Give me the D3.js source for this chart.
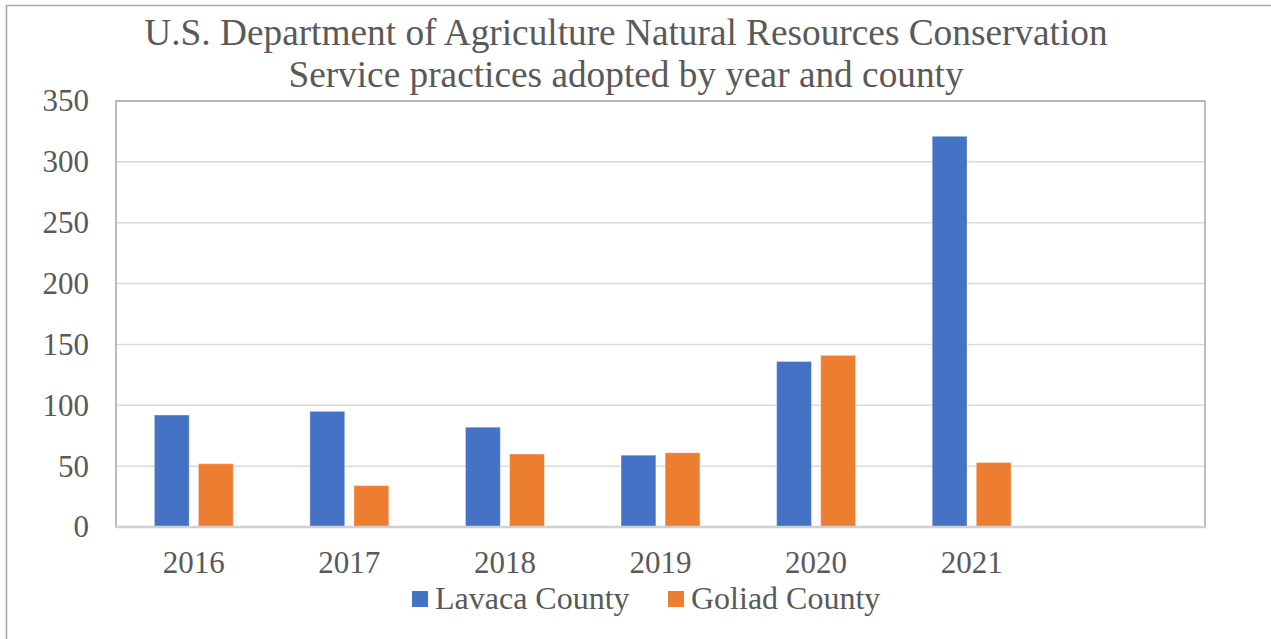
<!DOCTYPE html>
<html>
<head>
<meta charset="utf-8">
<script src="https://cdn.jsdelivr.net/npm/d3@7"></script>
<style>
  body { margin: 0; background: #fff; }
  text { font-family: "Liberation Serif", "Times New Roman", serif; fill: #595959; }
</style>
</head>
<body>
<div id="chart"></div>
<script>
// Chart data
var categories = ["2016", "2017", "2018", "2019", "2020", "2021", ""];
var seriesNames = ["Lavaca County", "Goliad County"];
var lavaca = [92, 95, 82, 59, 136, 321];
var goliad = [52, 34, 60, 61, 141, 53];
var yTicks = [0, 50, 100, 150, 200, 250, 300, 350];
var colors = ["#4472c4", "#ed7d31"];

var svgWidth = 1271;
var svgHeight = 639;

var chartMargin = { top: 101, right: 66, bottom: 112, left: 116 };
var chartWidth = svgWidth - chartMargin.left - chartMargin.right;
var chartHeight = svgHeight - chartMargin.top - chartMargin.bottom;

var svg = d3.select("#chart")
  .append("svg")
  .attr("width", svgWidth)
  .attr("height", svgHeight);

// outer chart border (only top/left visible in the crop)
svg.append("rect")
  .attr("x", 6.5)
  .attr("y", 5.5)
  .attr("width", svgWidth + 20)
  .attr("height", svgHeight + 20)
  .attr("fill", "none")
  .attr("stroke", "#a6a6a6")
  .attr("stroke-width", 1.5);

// title
var title = svg.append("text")
  .attr("text-anchor", "middle")
  .style("font-size", "37.3px");
title.append("tspan").attr("x", 626).attr("y", 45)
  .text("U.S. Department of Agriculture Natural Resources Conservation");
title.append("tspan").attr("x", 626).attr("y", 87)
  .text("Service practices adopted by year and county");

var chartGroup = svg.append("g")
  .attr("transform", `translate(${chartMargin.left}, ${chartMargin.top})`);

// scales
var x0 = d3.scaleBand()
  .domain(categories)
  .range([0, chartWidth]);

var x1 = d3.scaleBand()
  .domain(seriesNames)
  .range([0, x0.bandwidth()])
  .paddingInner(0.21)
  .paddingOuter(0.87);

var yScale = d3.scaleLinear()
  .domain([0, 350])
  .range([chartHeight, 0]);

// gridlines
chartGroup.append("g").selectAll("line")
  .data(yTicks.slice(1))
  .enter()
  .append("line")
  .attr("x1", 0)
  .attr("x2", chartWidth)
  .attr("y1", d => yScale(d))
  .attr("y2", d => yScale(d))
  .attr("stroke", "#d9d9d9")
  .attr("stroke-width", 1.5);

// plot border
chartGroup.append("rect")
  .attr("width", chartWidth)
  .attr("height", chartHeight)
  .attr("fill", "none")
  .attr("stroke", "#a6a6a6")
  .attr("stroke-width", 1.5);

// bars
var seriesData = [lavaca, goliad];
seriesNames.forEach(function(name, i) {
  chartGroup.append("g").selectAll("rect")
    .data(seriesData[i])
    .enter()
    .append("rect")
    .attr("x", (d, j) => x0(categories[j]) + x1(name))
    .attr("y", d => yScale(d))
    .attr("width", x1.bandwidth())
    .attr("height", d => chartHeight - yScale(d))
    .attr("fill", colors[i])
    .attr("stroke", "#ffffff")
    .attr("stroke-opacity", 0.35)
    .attr("stroke-width", 1);
});

// x axis line
chartGroup.append("line")
  .attr("x1", 0)
  .attr("x2", chartWidth)
  .attr("y1", chartHeight)
  .attr("y2", chartHeight)
  .attr("stroke", "#d0d0d0")
  .attr("stroke-width", 2.5);

// axes (labels only)
var leftAxis = d3.axisLeft(yScale).tickValues(yTicks).tickSize(0).tickPadding(27);
var bottomAxis = d3.axisBottom(x0).tickSize(0).tickPadding(24);

var yAxisG = chartGroup.append("g").call(leftAxis);
yAxisG.select(".domain").remove();
yAxisG.selectAll("text")
  .attr("fill", "#595959")
  .style("font-size", "31px")
  .style("font-family", "'Liberation Serif', 'Times New Roman', serif");

var xAxisG = chartGroup.append("g")
  .attr("transform", `translate(0, ${chartHeight})`)
  .call(bottomAxis);
xAxisG.select(".domain").remove();
xAxisG.selectAll("text")
  .attr("fill", "#595959")
  .style("font-size", "31px")
  .style("font-family", "'Liberation Serif', 'Times New Roman', serif");

// legend
var legendX = [412, 668];
var legend = svg.append("g").selectAll("g")
  .data(seriesNames)
  .enter()
  .append("g")
  .attr("transform", (d, i) => `translate(${legendX[i]}, 591)`);

legend.append("rect")
  .attr("width", 16)
  .attr("height", 16)
  .attr("fill", (d, i) => colors[i]);

legend.append("text")
  .attr("x", 23)
  .attr("y", 18)
  .style("font-size", "32px")
  .text(d => d);
</script>
</body>
</html>
